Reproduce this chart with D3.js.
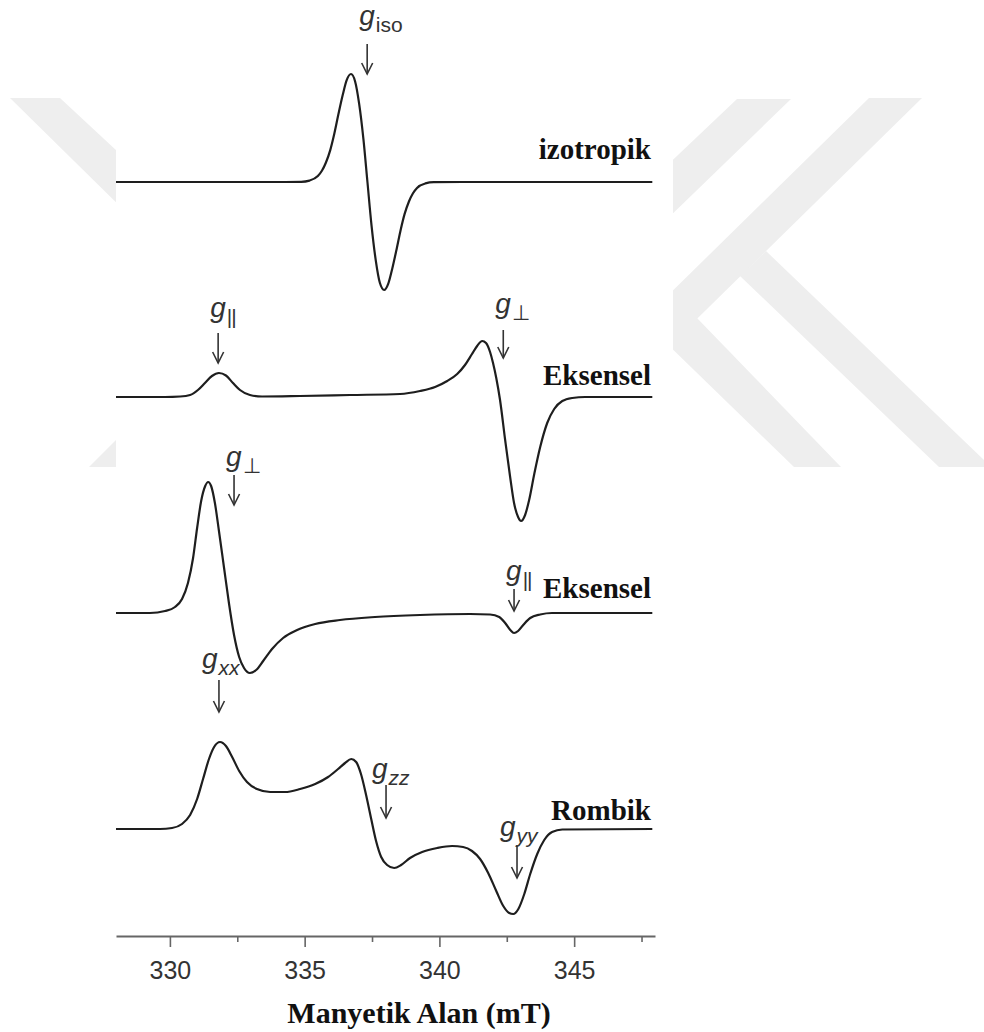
<!DOCTYPE html>
<html>
<head>
<meta charset="utf-8">
<script src="https://cdn.jsdelivr.net/npm/d3@7"></script>
<style>
  html, body { margin: 0; padding: 0; background: #ffffff; }
  svg { display: block; }
</style>
</head>
<body>
<svg id="chart" width="984" height="1032"></svg>
<script>
// ---- EPR first-derivative spectra: field (mT) and signal (a.u.) ----
const isoField  = [328.0, 334.0, 334.87, 335.18, 335.49, 335.64, 335.79, 335.95, 336.10, 336.25, 336.41, 336.56, 336.72, 336.87, 337.02, 337.18, 337.33,
                   337.48, 337.64, 337.79, 337.95, 338.10, 338.25, 338.41, 338.56, 338.71, 338.87, 339.02, 339.17, 339.48, 339.79, 341.0, 347.9];
const isoSignal = [0, 0, 0.2, 1.4, 5.9, 11.2, 19.5, 31.9, 48.2, 67.4, 86.7, 101.9, 108, 100.8, 78.6, 43.1, 0,
                   -43.1, -78.6, -100.8, -108, -101.9, -86.7, -67.4, -48.2, -31.9, -19.5, -11.2, -5.9, -1.4, -0.2, 0, 0];

const axial1Field  = [328.0, 329.82, 330.38, 330.75, 331.04, 331.30, 331.56, 331.82, 332.08, 332.34, 332.60, 332.97, 333.42, 334.83, 336.69, 338.54,
                      339.28, 339.84, 340.29, 340.66, 340.95, 341.21, 341.40, 341.59, 341.73, 341.88, 341.99, 342.11, 342.25, 342.44, 342.63,
                      342.77, 342.92, 343.03, 343.18, 343.33, 343.52, 343.74, 344.00, 344.26, 344.56, 344.93, 345.41, 347.9];
const axial1Signal = [0, 0, 0.5, 2, 7, 14, 21, 24, 21.5, 14, 7, 2, 0.5, 1, 2, 3,
                      6, 10, 16, 23, 32, 43, 51, 56, 54, 45, 34, 19, -3, -43, -81,
                      -106, -120, -124, -118, -103, -77, -50, -26, -12, -4, -1, 0, 0];

const axial2Field  = [328.0, 329.26, 329.82, 330.19, 330.45, 330.67, 330.86, 331.01, 331.16, 331.31, 331.42, 331.53, 331.67, 331.82, 332.01,
                      332.19, 332.38, 332.57, 332.75, 332.97, 333.20, 333.46, 333.79, 334.20, 334.72, 335.39, 336.31, 337.61, 339.28,
                      341.14, 341.88, 342.22, 342.44, 342.63, 342.77, 342.92, 343.11, 343.37, 343.74, 344.18, 347.9];
const axial2Signal = [0, 0, 2, 6, 14, 30, 55, 85, 112, 127, 131, 127, 110, 82, 45,
                      10, -22, -44, -55, -60, -57, -48, -36, -25, -17, -11, -7, -4, -2,
                      -1, -1.5, -4, -10, -17, -20, -18, -12, -5, -1.5, 0, 0];

const rhombicField  = [328.0, 329.63, 330.08, 330.45, 330.75, 331.01, 331.23, 331.45, 331.64, 331.86, 332.08, 332.31, 332.57, 332.86, 333.23,
                       333.72, 334.27, 334.83, 335.39, 335.87, 336.24, 336.50, 336.73, 336.91, 337.09, 337.28, 337.47, 337.65, 337.84,
                       338.06, 338.32, 338.58, 338.91, 339.36, 339.92, 340.47, 340.88, 341.21, 341.51, 341.81, 342.11, 342.37, 342.59,
                       342.74, 342.93, 343.15, 343.37, 343.63, 343.89, 344.18, 344.56, 347.9];
const rhombicSignal = [0, 0, 1, 5, 14, 30, 50, 70, 82, 87, 83, 72, 58, 47, 40,
                       37, 37, 40, 45, 52, 60, 66, 70, 67, 55, 34, 10, -12, -28,
                       -36, -39, -36, -29, -23, -19, -17, -18, -22, -30, -44, -62, -77, -84,
                       -85, -80, -65, -45, -25, -11, -3, -0.5, 0];

const spectrumNames = ["izotropik", "Eksensel", "Eksensel", "Rombik"];

// ---- g-value markers ----
const markerSpectrum = [0, 1, 1, 2, 2, 3, 3, 3];
const markerField    = [337.32, 331.79, 342.37, 332.38, 342.77, 331.82, 338.02, 342.88];
const markerSub      = ["iso", "||", "\u22A5", "\u22A5", "||", "xx", "zz", "yy"];
const markerSubItalic = [false, false, false, false, false, true, true, true];

// ---- axis ----
const tickMajor = [330, 335, 340, 345];
const tickMinor = [332.5, 337.5, 342.5, 347.5];
const axisTitle = "Manyetik Alan (mT)";

// ================= drawing =================
const svg = d3.select("#chart");
const W = 984, H = 1032;

// faint background emblem
const emblem = svg.append("g").attr("fill", "#eeeeee");
const emblemShapes = [
  [[10, 98], [60, 98], [260, 284], [260, 344]],
  [[89, 467], [220, 336], [260, 336], [260, 467]],
  [[737, 99], [791, 99], [600, 284], [600, 229]],
  [[869, 98], [922, 98], [600, 414], [600, 362]],
  [[740, 276], [766, 251], [984, 460], [984, 467], [939, 467]],
  [[696, 317], [841, 467], [794, 467], [660, 337], [672, 330]]
];
emblem.selectAll("polygon").data(emblemShapes).join("polygon")
  .attr("points", d => d.map(p => p.join(",")).join(" "));

// white plotting panel
svg.append("rect").attr("x", 116).attr("y", 0).attr("width", 557).attr("height", H).attr("fill", "#ffffff");

const x = d3.scaleLinear().domain([328, 348]).range([116, 655]);
const y = d3.scaleLinear().domain([-1, 1]).range([1, -1]);   // 1 a.u. = 1 px
const baselines = [182, 397, 613, 829];

const spectra = [
  isoField.map((f, i) => [f, isoSignal[i]]),
  axial1Field.map((f, i) => [f, axial1Signal[i]]),
  axial2Field.map((f, i) => [f, axial2Signal[i]]),
  rhombicField.map((f, i) => [f, rhombicSignal[i]])
];

const line = d3.line().x(d => x(d[0])).y(d => y(d[1])).curve(d3.curveMonotoneX);

const traces = svg.append("g");
spectra.forEach((s, i) => {
  traces.append("path")
    .attr("transform", `translate(0,${baselines[i]})`)
    .attr("d", line(s))
    .attr("fill", "none")
    .attr("stroke", "#1e1e1e")
    .attr("stroke-width", 2.2)
    .attr("stroke-linejoin", "round");
});

// spectrum names
const nameBaseline = [159, 385, 598, 820];
svg.append("g").selectAll("text").data(spectrumNames).join("text")
  .attr("x", 651)
  .attr("y", (d, i) => nameBaseline[i])
  .attr("text-anchor", "end")
  .attr("font-family", "'Liberation Serif', 'Times New Roman', serif")
  .attr("font-weight", "bold")
  .attr("font-size", 29)
  .attr("fill", "#111")
  .text(d => d);

// g markers: label + arrow
const markerLayout = [
  { text: 25, top: 44, tip: 74, dx: -8 },
  { text: 317, top: 333, tip: 363, dx: -8 },
  { text: 313, top: 330, tip: 358, dx: -8 },
  { text: 466, top: 475, tip: 505, dx: -8 },
  { text: 580, top: 589, tip: 611, dx: -8 },
  { text: 668, top: 680, tip: 712, dx: -17 },
  { text: 778, top: 785, tip: 818, dx: -14 },
  { text: 836, top: 845, tip: 878, dx: -17 }
];
const markers = svg.append("g").attr("fill", "#333").attr("stroke", "#333");
markerField.forEach((f, i) => {
  const cx = x(f), L = markerLayout[i];
  markers.append("line")
    .attr("x1", cx).attr("x2", cx).attr("y1", L.top).attr("y2", L.tip)
    .attr("stroke-width", 1.6);
  markers.append("path")
    .attr("d", `M${cx - 5.5},${L.tip - 11} L${cx},${L.tip} L${cx + 5.5},${L.tip - 11}`)
    .attr("fill", "none").attr("stroke-width", 1.6);
  const t = markers.append("text")
    .attr("x", cx + L.dx)
    .attr("y", L.text)
    .attr("stroke", "none")
    .attr("font-family", "'Liberation Sans', Arial, sans-serif");
  t.append("tspan").attr("font-style", "italic").attr("font-size", 28).text("g");
  t.append("tspan")
    .attr("dy", 7)
    .attr("dx", 1)
    .attr("font-size", 21)
    .attr("font-style", markerSubItalic[i] ? "italic" : "normal")
    .attr("letter-spacing", markerSub[i] === "||" ? -1 : 0)
    .text(markerSub[i]);
});

// field axis
const axisY = 936;
const axisG = svg.append("g").attr("transform", `translate(0,${axisY})`)
  .call(d3.axisBottom(x).tickValues(tickMajor).tickSize(11).tickPadding(14).tickSizeOuter(0));
axisG.select(".domain").attr("stroke", "#666").attr("stroke-width", 2);
axisG.selectAll(".tick line").attr("stroke", "#666").attr("stroke-width", 1.6);
axisG.selectAll(".tick text")
  .attr("font-family", "'Liberation Sans', Arial, sans-serif")
  .attr("font-size", 25)
  .attr("fill", "#333");

const minorG = svg.append("g").attr("transform", `translate(0,${axisY})`)
  .call(d3.axisBottom(x).tickValues(tickMinor).tickSize(6).tickFormat("").tickSizeOuter(0));
minorG.select(".domain").remove();
minorG.selectAll(".tick line").attr("stroke", "#666").attr("stroke-width", 1.6);

svg.append("text")
  .attr("x", 419)
  .attr("y", 1023)
  .attr("text-anchor", "middle")
  .attr("font-family", "'Liberation Serif', 'Times New Roman', serif")
  .attr("font-weight", "bold")
  .attr("font-size", 30)
  .attr("fill", "#111")
  .text(axisTitle);
</script>
</body>
</html>
